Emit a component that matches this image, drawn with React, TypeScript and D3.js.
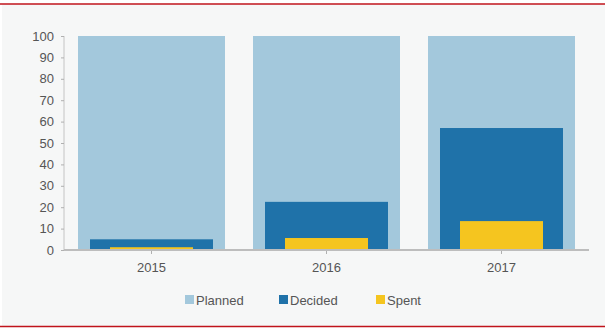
import React from "react";
import * as d3 from "d3";

const years = ["2015", "2016", "2017"];
const planned = [100, 100, 100];
const decided = [5, 22.5, 57];
const spent = [1.3, 5.6, 13.5];
const yTicks = [0, 10, 20, 30, 40, 50, 60, 70, 80, 90, 100];
const legendLabels = ["Planned", "Decided", "Spent"];

const W = 607;
const H = 331;
const colors = { planned: "#a3c8dc", decided: "#1f72a9", spent: "#f5c51f" };
const textColor = "#555555";
const font = "'Liberation Sans', Arial, Helvetica, sans-serif";

export default function App() {
  const x = d3.scaleBand<string>().domain(years).range([64, 589]).paddingInner(0.16).paddingOuter(0.08);
  const y = d3.scaleLinear().domain([0, 100]).range([250, 36]);
  const bw = x.bandwidth();
  const legendX = [185, 279, 376];
  const legendColors = [colors.planned, colors.decided, colors.spent];

  return (
    <svg width={W} height={H} style={{ position: "absolute", left: 0, top: 0 }}>
      <rect x={2} y={4} width={603} height={322} fill="#f6f7f7" />
      <line x1={0} x2={605} y1={4} y2={4} stroke="#c0141c" strokeWidth={1.5} />
      <line x1={0} x2={605} y1={326.5} y2={326.5} stroke="#c0141c" strokeWidth={1.5} />
      {/* y axis */}
      <line x1={64} x2={64} y1={y(100)} y2={y(0)} stroke="#c4c4c4" strokeWidth={1} />
      {yTicks.map((t) => (
        <g key={t}>
          <line x1={61} x2={64} y1={y(t) + 0.5} y2={y(t) + 0.5} stroke="#b0b0b0" />
          <text x={54} y={y(t)} dy="0.35em" textAnchor="end" fontFamily={font} fontSize={13} fill={textColor}>
            {t}
          </text>
        </g>
      ))}
      {years.map((yr, i) => {
        const x0 = x(yr)!;
        return (
          <g key={yr}>
            <rect x={x0} y={y(planned[i])} width={bw} height={y(0) - y(planned[i])} fill={colors.planned} />
            <rect x={x0 + 12} y={y(decided[i])} width={bw - 24} height={y(0) - y(decided[i])} fill={colors.decided} />
            <rect x={x0 + 32} y={y(spent[i])} width={bw - 64} height={y(0) - y(spent[i])} fill={colors.spent} />
          </g>
        );
      })}
      {/* x axis */}
      <line x1={64} x2={589} y1={250} y2={250} stroke="#bdbdbd" strokeWidth={2} />
      {years.map((yr) => {
        const cx = x(yr)! + bw / 2;
        return (
          <g key={yr}>
            <line x1={cx} x2={cx} y1={251} y2={254} stroke="#b0b0b0" />
            <text x={cx} y={267} dy="0.35em" textAnchor="middle" fontFamily={font} fontSize={13} fill={textColor}>
              {yr}
            </text>
          </g>
        );
      })}
      {/* legend */}
      {legendLabels.map((l, i) => (
        <g key={l}>
          <rect x={legendX[i]} y={295} width={9} height={9} fill={legendColors[i]} />
          <text x={legendX[i] + 11} y={300} dy="0.35em" fontFamily={font} fontSize={13} fill={textColor}>
            {l}
          </text>
        </g>
      ))}
    </svg>
  );
}
